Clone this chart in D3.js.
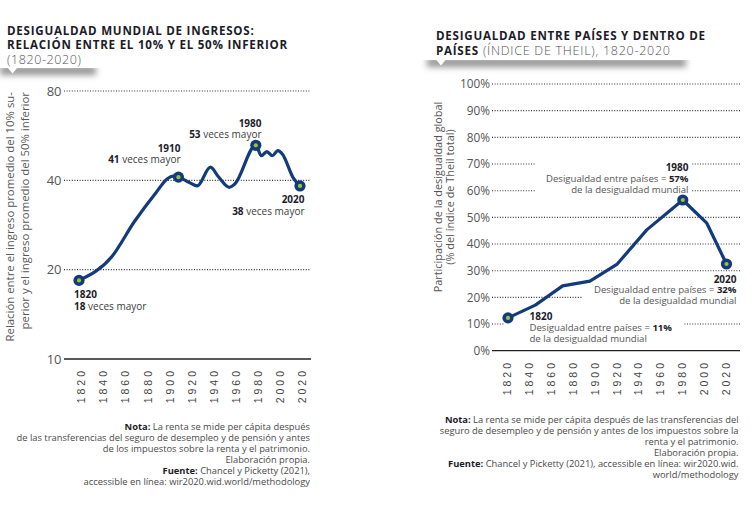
<!DOCTYPE html>
<html><head><meta charset="utf-8">
<script src="https://cdn.jsdelivr.net/npm/d3@7/dist/d3.min.js"></script>
<style>
html,body{margin:0;padding:0;background:#fff;}
svg{display:block;font-family:"Open Sans",sans-serif;}
</style></head><body>
<svg id="c" width="756" height="521"></svg>
<script>
// ---- Left chart data: ratio top 10% / bottom 50% ----
const leftYears  = [1820, 1850, 1870, 1890, 1900, 1905, 1910, 1920, 1927, 1939, 1946, 1956, 1961, 1980, 1985, 1990, 1995, 2000, 2004, 2014, 2020];
const leftValues = [18.4, 22.2, 29.0, 36.5, 40.5, 41.3, 41.0, 39.3, 38.3, 44.3, 41.2, 37.9, 38.9, 52.5, 48.4, 50.0, 48.4, 50.4, 49.1, 40.7, 38.3];
const leftTicksY = [10, 20, 40, 80];
const tickYears  = [1820, 1840, 1860, 1880, 1900, 1920, 1940, 1960, 1980, 2000, 2020];
const leftHighlights = [
  {year: 1820, value: 18.4, label: "1820", num: "18", rest: " veces mayor"},
  {year: 1910, value: 41.0, label: "1910", num: "41", rest: " veces mayor"},
  {year: 1980, value: 52.5, label: "1980", num: "53", rest: " veces mayor"},
  {year: 2020, value: 38.3, label: "2020", num: "38", rest: " veces mayor"}
];

// ---- Right chart data: between-country share of Theil index (%) ----
const rightYears  = [1820, 1845, 1870, 1895, 1920, 1947, 1980, 2002, 2020];
const rightValues = [12.3, 17.1, 24.3, 26.1, 32.5, 45.3, 56.5, 47.8, 32.5];
const rightTicksY = [0, 10, 20, 30, 40, 50, 60, 70, 80, 90, 100];
const rightHighlights = [
  {year: 1820, value: 12.3, label: "1820", pct: "11%"},
  {year: 1980, value: 56.5, label: "1980", pct: "57%"},
  {year: 2020, value: 32.5, label: "2020", pct: "32%"}
];

const NAVY = "#133b7b", DOT = "#9cc23b", TXT = "#3b3b3b", GRAY = "#555", DARK = "#1c1c28";

const svg = d3.select("#c");
const defs = svg.append("defs");
defs.append("filter").attr("id","blur").attr("x","-20%").attr("y","-200%").attr("width","140%").attr("height","500%")
  .append("feGaussianBlur").attr("stdDeviation", 3.2);

function shadowTab(x0, x1, yTop, tx) {
  svg.append("rect").attr("x", x0).attr("y", yTop - 2).attr("width", x1 - x0).attr("height", 9)
    .attr("fill", "#939393").attr("filter", "url(#blur)");
  svg.append("rect").attr("x", x0 - 20).attr("y", yTop - 30).attr("width", x1 - x0 + 40).attr("height", 30).attr("fill", "#fff");
  svg.append("path").attr("d", `M${tx-5},${yTop-0.5}L${tx+5},${yTop-0.5}L${tx},${yTop+5.5}Z`).attr("fill", "#fff");
}

// ================= LEFT CHART =================
shadowTab(0, 96, 68, 12.5);
const tL = svg.append("g").attr("font-weight", 700).attr("fill", DARK).attr("font-size", 11.6).attr("letter-spacing", 0.75);
tL.append("text").attr("x", 7).attr("y", 34.5).text("DESIGUALDAD MUNDIAL DE INGRESOS:");
tL.append("text").attr("x", 7).attr("y", 48.5).text("RELACIÓN ENTRE EL 10% Y EL 50% INFERIOR");
svg.append("text").attr("x", 7).attr("y", 63.5).attr("font-size", 12.5).attr("letter-spacing", 0.6).attr("fill", GRAY).attr("font-weight", 300).text("(1820-2020)");

const xL = d3.scaleLinear().domain([1820, 2020]).range([79, 300]);
const yL = d3.scaleLog().domain([10, 80]).range([359, 91]);

const gL = svg.append("g");
leftTicksY.forEach(v => {
  gL.append("line").attr("x1", 64).attr("x2", 311).attr("y1", yL(v)).attr("y2", yL(v))
    .attr("stroke", v === 10 ? "#222" : "#333").attr("stroke-width", v === 10 ? 1.3 : 1.1)
    .attr("stroke-dasharray", v === 10 ? null : "1,1.6");
  gL.append("text").attr("x", 61.5).attr("y", yL(v)).attr("dy", "0.36em").attr("text-anchor", "end")
    .attr("font-size", 13).attr("fill", GRAY).attr("font-weight", 400).text(d3.format("d")(v));
});
tickYears.forEach(yr => {
  gL.append("text").attr("transform", `translate(${xL(yr) + 2.5},368) rotate(-90)`).attr("dy", "0.36em")
    .attr("text-anchor", "end").attr("font-family", "Liberation Sans, Arial, sans-serif")
    .attr("font-size", 10.5).attr("letter-spacing", 3).attr("fill", "#444").text(yr);
});
const yTitleL = svg.append("g").attr("font-size", 11.4).attr("fill", GRAY).attr("font-weight", 400).attr("text-anchor", "end");
yTitleL.append("text").attr("transform", "translate(10,92) rotate(-90)").attr("dy", "0.36em").text("Relación entre el ingreso promedio del 10% su-");
yTitleL.append("text").attr("transform", "translate(25,92) rotate(-90)").attr("dy", "0.36em").text("perior  y el ingreso promedio del 50% inferior");

const lineL = d3.line().x((d, i) => xL(leftYears[i])).y(d => yL(d)).curve(d3.curveMonotoneX);
gL.append("path").datum(leftValues).attr("d", lineL).attr("fill", "none").attr("stroke", NAVY)
  .attr("stroke-width", 3.2).attr("stroke-linejoin", "round").attr("stroke-linecap", "round");
leftHighlights.forEach(h => {
  gL.append("circle").attr("cx", xL(h.year)).attr("cy", yL(h.value)).attr("r", 5.6).attr("fill", NAVY);
  gL.append("circle").attr("cx", xL(h.year)).attr("cy", yL(h.value)).attr("r", 2.1).attr("fill", DOT);
});
// annotations (left)
const annL = [
  {h: leftHighlights[0], x: 74, y1: 294.5, y2: 306, anchor: "start"},
  {h: leftHighlights[1], x: 180.5, y1: 148, y2: 159.5, anchor: "end"},
  {h: leftHighlights[2], x: 261.5, y1: 123, y2: 134.5, anchor: "end"},
  {h: leftHighlights[3], x: 304.5, y1: 199.5, y2: 211, anchor: "end"}
];
annL.forEach(a => {
  gL.append("text").attr("x", a.x).attr("y", a.y1).attr("dy", "0.36em").attr("text-anchor", a.anchor)
    .attr("font-size", 10).attr("font-weight", 700).attr("fill", DARK).text(a.h.label);
  const t = gL.append("text").attr("x", a.x).attr("y", a.y2).attr("dy", "0.36em").attr("text-anchor", a.anchor)
    .attr("font-size", 10).attr("fill", TXT);
  t.append("tspan").attr("font-weight", 700).attr("fill", DARK).text(a.h.num);
  t.append("tspan").text(a.h.rest);
});
// notes (left)
const notesL = [
  [["Nota:", true], [" La renta se mide per cápita después", false]],
  [["de las transferencias del seguro de desempleo y de pensión y antes", false]],
  [["de los impuestos sobre la renta y el patrimonio.", false]],
  [["Elaboración propia.", false]],
  [["Fuente:", true], [" Chancel y Picketty (2021),", false]],
  [["accessible en línea: wir2020.wid.world/methodology", false]]
];
const notesLY = [427, 438, 449, 460, 471, 482];
notesL.forEach((parts, i) => {
  const t = svg.append("text").attr("x", 310).attr("y", notesLY[i]).attr("dy", "0.36em").attr("text-anchor", "end")
    .attr("font-size", 9.35).attr("fill", "#4a4a4a");
  parts.forEach(p => t.append("tspan").attr("font-weight", p[1] ? 700 : 400).attr("fill", p[1] ? DARK : "#4a4a4a").text(p[0]));
});

// ================= RIGHT CHART =================
shadowTab(427, 686, 60, 441);
const tR = svg.append("g").attr("font-size", 11.6).attr("fill", DARK).attr("letter-spacing", 0.75);
tR.append("text").attr("x", 436).attr("y", 40).attr("font-weight", 700).text("DESIGUALDAD ENTRE PAÍSES Y DENTRO DE");
const t2 = tR.append("text").attr("x", 436).attr("y", 54.5);
t2.append("tspan").attr("font-weight", 700).text("PAÍSES");
t2.append("tspan").attr("font-weight", 300).attr("font-size", 12.5).attr("fill", GRAY).text(" (ÍNDICE DE THEIL), 1820-2020");

const xR = d3.scaleLinear().domain([1820, 2020]).range([508, 726.5]);
const yR = d3.scaleLinear().domain([0, 100]).range([350.7, 84]);
const gR = svg.append("g");
rightTicksY.forEach(v => {
  gR.append("line").attr("x1", 492).attr("x2", 740).attr("y1", yR(v)).attr("y2", yR(v))
    .attr("stroke", v === 0 ? "#222" : "#333").attr("stroke-width", v === 0 ? 1.3 : 1.1)
    .attr("stroke-dasharray", v === 0 ? null : "1,1.6");
  gR.append("text").attr("x", 490).attr("y", yR(v)).attr("dy", "0.36em").attr("text-anchor", "end")
    .attr("font-size", 11.8).attr("fill", GRAY).attr("font-weight", 400).text(v + "%");
});
tickYears.forEach(yr => {
  gR.append("text").attr("transform", `translate(${xR(yr) - 0.5},360) rotate(-90)`).attr("dy", "0.36em")
    .attr("text-anchor", "end").attr("font-family", "Liberation Sans, Arial, sans-serif")
    .attr("font-size", 10.5).attr("letter-spacing", 3).attr("fill", "#444").text(yr);
});
const yTitleR = svg.append("g").attr("font-size", 10.9).attr("fill", GRAY).attr("font-weight", 400).attr("text-anchor", "middle");
yTitleR.append("text").attr("transform", "translate(438.5,197) rotate(-90)").attr("dy", "0.36em").text("Participación de la desigualdad global");
yTitleR.append("text").attr("transform", "translate(450,197) rotate(-90)").attr("dy", "0.36em").text("(% del índice de Theil total)");

// annotation white backgrounds (they interrupt the gridlines)
const bgR = [
  {x: 535, y: 160, w: 157, h: 35},
  {x: 583, y: 272, w: 157, h: 34},
  {x: 505, y: 310, w: 178, h: 35}
];
bgR.forEach(b => gR.append("rect").attr("x", b.x).attr("y", b.y).attr("width", b.w).attr("height", b.h).attr("fill", "#fff"));

const lineR = d3.line().x((d, i) => xR(rightYears[i])).y(d => yR(d)).curve(d3.curveLinear);
gR.append("path").datum(rightValues).attr("d", lineR).attr("fill", "none").attr("stroke", NAVY)
  .attr("stroke-width", 3.2).attr("stroke-linejoin", "round").attr("stroke-linecap", "round");
rightHighlights.forEach(h => {
  gR.append("circle").attr("cx", xR(h.year)).attr("cy", yR(h.value)).attr("r", 5.6).attr("fill", NAVY);
  gR.append("circle").attr("cx", xR(h.year)).attr("cy", yR(h.value)).attr("r", 2.1).attr("fill", DOT);
});
const annR = [
  {h: rightHighlights[0], x: 529.5, ys: [316.7, 327.7, 338.7], anchor: "start"},
  {h: rightHighlights[1], x: 688.5, ys: [167.3, 178.7, 189.3], anchor: "end"},
  {h: rightHighlights[2], x: 736.5, ys: [279, 290, 300.7], anchor: "end"}
];
annR.forEach(a => {
  gR.append("text").attr("x", a.x).attr("y", a.ys[0]).attr("dy", "0.36em").attr("text-anchor", a.anchor)
    .attr("font-size", 10).attr("font-weight", 700).attr("fill", DARK).text(a.h.label);
  const t = gR.append("text").attr("x", a.x).attr("y", a.ys[1]).attr("dy", "0.36em").attr("text-anchor", a.anchor)
    .attr("font-size", 9.6).attr("fill", GRAY);
  t.append("tspan").text("Desigualdad entre países = ");
  t.append("tspan").attr("font-weight", 700).attr("fill", DARK).text(a.h.pct);
  gR.append("text").attr("x", a.x).attr("y", a.ys[2]).attr("dy", "0.36em").attr("text-anchor", a.anchor)
    .attr("font-size", 9.6).attr("fill", GRAY).text("de la desigualdad mundial");
});
// notes (right)
const notesR = [
  [["Nota:", true], [" La renta se mide per cápita después de las transferencias del", false]],
  [["seguro de desempleo y de pensión y antes de los impuestos sobre la", false]],
  [["renta y el patrimonio.", false]],
  [["Elaboración propia.", false]],
  [["Fuente:", true], [" Chancel y Picketty (2021), accessible en línea: wir2020.wid.", false]],
  [["world/methodology", false]]
];
const notesRY = [419.5, 431, 442, 453, 464, 475];
notesR.forEach((parts, i) => {
  const t = svg.append("text").attr("x", 738.5).attr("y", notesRY[i]).attr("dy", "0.36em").attr("text-anchor", "end")
    .attr("font-size", 9.35).attr("fill", "#4a4a4a");
  parts.forEach(p => t.append("tspan").attr("font-weight", p[1] ? 700 : 400).attr("fill", p[1] ? DARK : "#4a4a4a").text(p[0]));
});
</script>
</body></html>
